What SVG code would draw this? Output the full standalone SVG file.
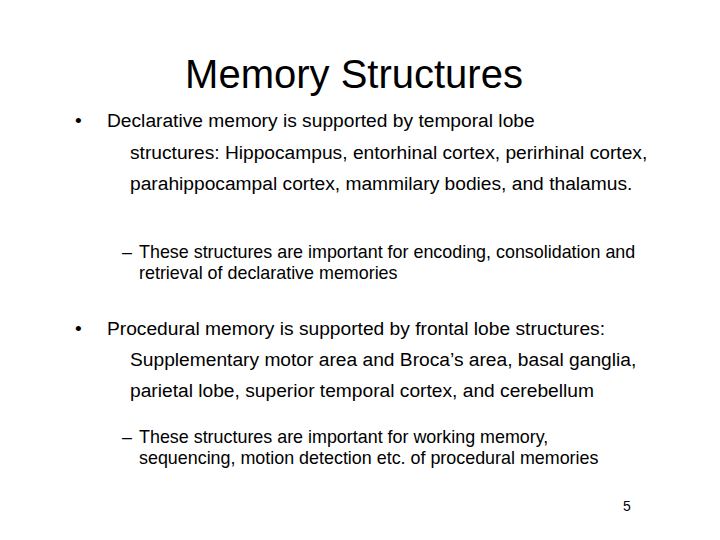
<svg xmlns="http://www.w3.org/2000/svg" width="720" height="540" viewBox="0 0 720 540">
<style>
text{font-family:"Liberation Sans",Arial,sans-serif;fill:#000}
.t{font-size:40px}
.b{font-size:19.2px}
.s{font-size:17.9px}
</style>
<rect width="720" height="540" fill="#fff"/>
<text class="t" x="354" y="88" text-anchor="middle">Memory Structures</text>
<g id="b1">
<text class="b" x="75" y="127">•</text>
<text class="b" x="107" y="127">Declarative memory is supported by temporal lobe</text>
<text class="b" x="130" y="159">structures: Hippocampus, entorhinal cortex, perirhinal cortex,</text>
<text class="b" x="130" y="190">parahippocampal cortex, mammilary bodies, and thalamus.</text>
</g>
<g id="s1">
<text class="s" x="122" y="258">–</text>
<text class="s" x="139" y="258">These structures are important for encoding, consolidation and</text>
<text class="s" x="139" y="279">retrieval of declarative memories</text>
</g>
<g id="b2">
<text class="b" x="75" y="335">•</text>
<text class="b" x="107" y="335">Procedural memory is supported by frontal lobe structures:</text>
<text class="b" x="130" y="366">Supplementary motor area and Broca’s area, basal ganglia,</text>
<text class="b" x="130" y="397">parietal lobe, superior temporal cortex, and cerebellum</text>
</g>
<g id="s2">
<text class="s" x="122" y="443">–</text>
<text class="s" x="139" y="443">These structures are important for working memory,</text>
<text class="s" x="139" y="464">sequencing, motion detection etc. of procedural memories</text>
</g>
<text x="627" y="511" style="font-size:14px" text-anchor="middle">5</text>
</svg>
